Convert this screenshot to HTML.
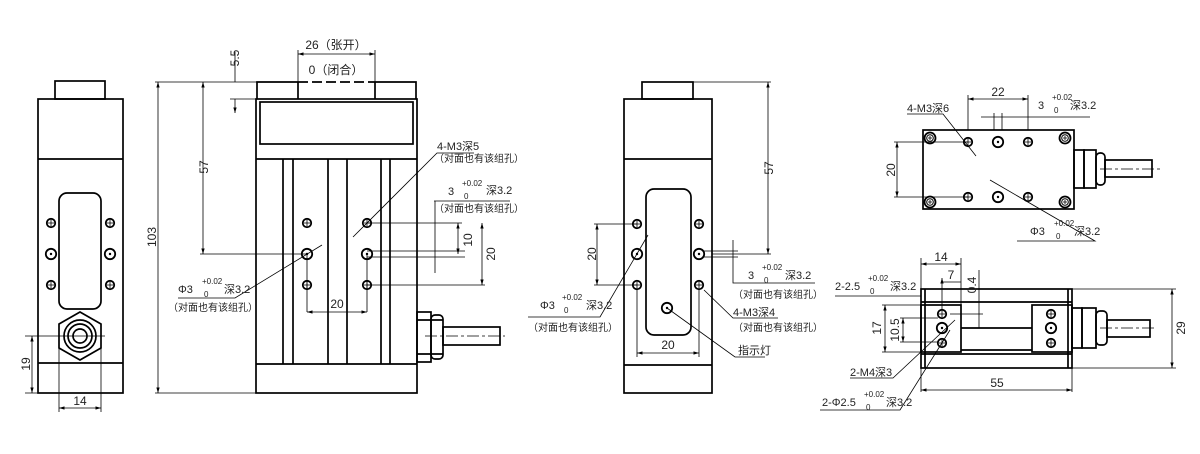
<!DOCTYPE html>
<html><head><meta charset="utf-8"><style>
html,body{margin:0;padding:0;background:#fff;width:1200px;height:454px;overflow:hidden}
svg{display:block}
text{font-family:"Liberation Sans","Noto Sans CJK SC",sans-serif;fill:#222}
</style></head><body>
<svg width="1200" height="454" viewBox="0 0 1200 454" xmlns="http://www.w3.org/2000/svg">
<defs>
<marker id="a" viewBox="0 0 10 10" refX="10" refY="5" markerWidth="7" markerHeight="7" orient="auto-start-reverse"><path d="M0,2 L10,5 L0,8 z" fill="#000"/></marker>
<g id="h"><circle r="4.2" fill="none" stroke="#000" stroke-width="1.8"/><path d="M-3,0H3M0,-3V3" stroke="#000" stroke-width="0.8"/></g>
<g id="H"><circle r="5.2" fill="none" stroke="#000" stroke-width="1.8"/><circle r="1.2" fill="#000"/></g>
<g id="s"><circle r="5.5" fill="none" stroke="#000" stroke-width="1.8"/><circle r="3.3" fill="none" stroke="#000" stroke-width="1"/><path d="M-2,0H2M0,-2V2" stroke="#000" stroke-width="0.8"/></g>
</defs>
<g fill="none" stroke="#000" stroke-width="1.7">
<!-- View A -->
<rect x="55" y="81" width="50" height="18"/>
<rect x="38" y="99" width="85" height="294"/>
<path d="M38,159H123M38,363H123"/>
<rect x="59" y="193" width="42" height="116" rx="8"/>
<polygon points="80,312 101,324 101,348 80,360 59,348 59,324"/>
<circle cx="80" cy="336" r="16"/><circle cx="80" cy="336" r="12"/><circle cx="80" cy="336" r="7"/>
<!-- View B -->
<path d="M257,99V82H298M375,82H416V99M298,82V99M375,82V99"/>
<path d="M298,82H375" stroke-dasharray="10,4"/>
<rect x="256" y="99" width="161" height="294"/>
<rect x="260" y="102" width="153" height="42"/>
<path d="M256,159H417M256,364H417M283,159V364M293,159V364M328,159V364M347,159V364M381,159V364M390,159V364"/>
<rect x="417" y="312" width="14" height="50"/><rect x="431" y="315" width="12" height="44" rx="4"/>
<path d="M417,320H443M417,354H443"/>
<rect x="443" y="327" width="57" height="18"/>
<!-- View C -->
<rect x="642" y="82" width="51" height="17"/>
<rect x="624" y="99" width="88" height="294"/>
<path d="M624,159H712M624,365H712"/>
<rect x="646" y="189" width="45" height="146" rx="8"/>
<!-- Top-right -->
<rect x="923" y="130" width="151" height="79"/>
<rect x="1074" y="150" width="10" height="38"/><rect x="1084" y="150" width="12" height="38"/><rect x="1096" y="153" width="9" height="32" rx="4"/>
<rect x="1105" y="160" width="47" height="17"/>
<!-- Bottom-right -->
<rect x="921" y="289" width="151" height="79"/>
<path d="M921,302H1072M921,354H1072M925,289V368M1068,289V368"/>
<rect x="921" y="305" width="40" height="47"/>
<rect x="1032" y="305" width="40" height="47"/>
<path d="M961,328H1032M961,350H1032"/>
<rect x="1072" y="308" width="10" height="40"/><rect x="1082" y="308" width="14" height="40"/><rect x="1096" y="311" width="11" height="34" rx="4"/>
<rect x="1107" y="320" width="43" height="17"/>
</g>
<!-- holes -->
<g>
<use href="#h" x="51" y="223"/><use href="#H" x="51" y="254"/><use href="#h" x="51" y="285"/>
<use href="#h" x="110" y="223"/><use href="#H" x="110" y="254"/><use href="#h" x="110" y="285"/>
<use href="#h" x="307" y="223"/><use href="#H" x="307" y="254"/><use href="#h" x="307" y="285"/>
<use href="#h" x="367" y="223"/><use href="#H" x="367" y="254"/><use href="#h" x="367" y="285"/>
<use href="#h" x="637" y="224"/><use href="#H" x="637" y="254"/><use href="#h" x="637" y="285"/>
<use href="#h" x="699" y="224"/><use href="#H" x="699" y="254"/><use href="#h" x="699" y="285"/>
<use href="#H" x="667" y="308"/>
<use href="#s" x="930" y="138"/><use href="#s" x="1065" y="138"/><use href="#s" x="930" y="202"/><use href="#s" x="1065" y="202"/>
<use href="#h" x="968" y="142"/><use href="#H" x="998" y="142"/><use href="#h" x="1028" y="142"/>
<use href="#h" x="968" y="197"/><use href="#H" x="998" y="197"/><use href="#h" x="1028" y="197"/>
<use href="#h" x="942" y="314"/><use href="#H" x="942" y="328"/><use href="#h" x="942" y="343"/>
<use href="#h" x="1051" y="314"/><use href="#H" x="1051" y="328"/><use href="#h" x="1051" y="343"/>
</g>
<!-- dims/ext lines -->
<g fill="none" stroke="#000" stroke-width="0.8">
<path d="M25,336H105M25,393H38M59,336V412M101,336V412"/>
<path d="M32,336V393" marker-start="url(#a)" marker-end="url(#a)"/>
<path d="M59,408H101" marker-start="url(#a)" marker-end="url(#a)"/>
<path d="M155,82H257M155,393H256M200,254H307M230,99H257M298,50V82M375,50V82"/>
<path d="M158,82V393" marker-start="url(#a)" marker-end="url(#a)"/>
<path d="M203,82V254" marker-start="url(#a)" marker-end="url(#a)"/>
<path d="M235,52V82M235,99V113" marker-end="url(#a)"/>
<path d="M298,54H375" marker-start="url(#a)" marker-end="url(#a)"/>
<path d="M307,254V312M367,254V312"/>
<path d="M307,312H367" marker-start="url(#a)" marker-end="url(#a)"/>
<path d="M367,223H462M367,251H465M367,257H465M367,285H485M435,201V273M434,201H510"/>
<path d="M458,223V254" marker-start="url(#a)" marker-end="url(#a)"/>
<path d="M482,223V285" marker-start="url(#a)" marker-end="url(#a)"/>
<path d="M353,237L437,153H474"/>
<path d="M178,298H235L322,245"/>
<path d="M693,82H771M712,254H771"/>
<path d="M768,82V254" marker-start="url(#a)" marker-end="url(#a)"/>
<path d="M594,224H637M594,285H637"/>
<path d="M597,224V285" marker-start="url(#a)" marker-end="url(#a)"/>
<path d="M637,290V357M699,290V357"/>
<path d="M637,353H699" marker-start="url(#a)" marker-end="url(#a)"/>
<path d="M703,251H738M703,257H738M733,240V283H815"/>
<path d="M528,317H600L648,235"/>
<path d="M704,290L733,318H778"/>
<path d="M667,308L735,357H765"/>
<path d="M968,130V95M1028,130V95"/>
<path d="M968,99H1028" marker-start="url(#a)" marker-end="url(#a)"/>
<path d="M981,117H1090M994,113V130M1002,113V130"/>
<path d="M894,142H968M894,197H968"/>
<path d="M897,142V197" marker-start="url(#a)" marker-end="url(#a)"/>
<path d="M907,114H943L976,156"/>
<path d="M1017,241H1095L990,180"/>
<path d="M921,258V289M961,258V305"/>
<path d="M921,264H961" marker-start="url(#a)" marker-end="url(#a)"/>
<path d="M942,278V310M942,282H961" marker-start="url(#a)"/>
<path d="M979,270V328M950,314H983"/>
<path d="M1072,289H1176M1072,368H1176"/>
<path d="M1172,289V368" marker-start="url(#a)" marker-end="url(#a)"/>
<path d="M921,368V392M1072,368V392"/>
<path d="M921,390H1072" marker-start="url(#a)" marker-end="url(#a)"/>
<path d="M882,305H921M882,352H921M900,318H938M900,342H938"/>
<path d="M885,305V352" marker-start="url(#a)" marker-end="url(#a)"/>
<path d="M903,318V342" marker-start="url(#a)" marker-end="url(#a)"/>
<path d="M835,296H921"/>
<path d="M850,378H893L955,320"/>
<path d="M820,410H900L950,330"/>
</g>
<g stroke="#000" stroke-width="0.8" stroke-dasharray="12,3,3,3" fill="none">
<path d="M425,336H505M1100,169H1160M1100,328H1155"/>
</g>
<!-- text -->
<g font-size="12" text-anchor="middle">
<text x="80" y="405">14</text>
<text transform="translate(30,364) rotate(-90)">19</text>
<text transform="translate(156,237) rotate(-90)">103</text>
<text transform="translate(208,167) rotate(-90)">57</text>
<text transform="translate(239,58) rotate(-90)">5.5</text>
<text x="336" y="49">26（张开）</text>
<text x="336" y="74">0（闭合）</text>
<text x="337" y="308">20</text>
<text transform="translate(472,240) rotate(-90)">10</text>
<text transform="translate(495,254) rotate(-90)">20</text>
<text transform="translate(773,168) rotate(-90)">57</text>
<text transform="translate(596,254) rotate(-90)">20</text>
<text x="668" y="349">20</text>
<text x="998" y="96">22</text>
<text transform="translate(895,170) rotate(-90)">20</text>
<text x="941" y="261">14</text>
<text x="951" y="279">7</text>
<text transform="translate(976,285) rotate(-90)">0.4</text>
<text transform="translate(881,328) rotate(-90)">17</text>
<text transform="translate(899,330) rotate(-90)">10.5</text>
<text transform="translate(1185,328) rotate(-90)">29</text>
<text x="997" y="387">55</text>
</g>
<g font-size="11">
<text x="437" y="150">4-M3深5</text>
<text x="434" y="162" font-size="10">（对面也有该组孔）</text>
<text x="448" y="195">3</text><text x="462" y="186" font-size="8">+0.02</text><text x="464" y="199" font-size="8">0</text><text x="486" y="194">深3.2</text>
<text x="434" y="212" font-size="10">（对面也有该组孔）</text>
<text x="178" y="293">Φ3</text><text x="202" y="284" font-size="8">+0.02</text><text x="204" y="297" font-size="8">0</text><text x="224" y="293">深3.2</text>
<text x="168" y="311" font-size="10">（对面也有该组孔）</text>
<text x="540" y="309">Φ3</text><text x="562" y="300" font-size="8">+0.02</text><text x="564" y="313" font-size="8">0</text><text x="586" y="309">深3.2</text>
<text x="528" y="331" font-size="10">（对面也有该组孔）</text>
<text x="748" y="279">3</text><text x="762" y="270" font-size="8">+0.02</text><text x="764" y="283" font-size="8">0</text><text x="785" y="279">深3.2</text>
<text x="733" y="298" font-size="10">（对面也有该组孔）</text>
<text x="733" y="316">4-M3深4</text>
<text x="733" y="331" font-size="10">（对面也有该组孔）</text>
<text x="738" y="354">指示灯</text>
<text x="907" y="112">4-M3深6</text>
<text x="1038" y="109">3</text><text x="1052" y="100" font-size="8">+0.02</text><text x="1054" y="113" font-size="8">0</text><text x="1070" y="109">深3.2</text>
<text x="1030" y="235">Φ3</text><text x="1054" y="226" font-size="8">+0.02</text><text x="1056" y="239" font-size="8">0</text><text x="1074" y="235">深3.2</text>
<text x="835" y="290">2-2.5</text><text x="868" y="281" font-size="8">+0.02</text><text x="870" y="294" font-size="8">0</text><text x="890" y="290">深3.2</text>
<text x="850" y="376">2-M4深3</text>
<text x="822" y="406">2-Φ2.5</text><text x="864" y="397" font-size="8">+0.02</text><text x="866" y="410" font-size="8">0</text><text x="886" y="406">深3.2</text>
</g>
</svg>
</body></html>
